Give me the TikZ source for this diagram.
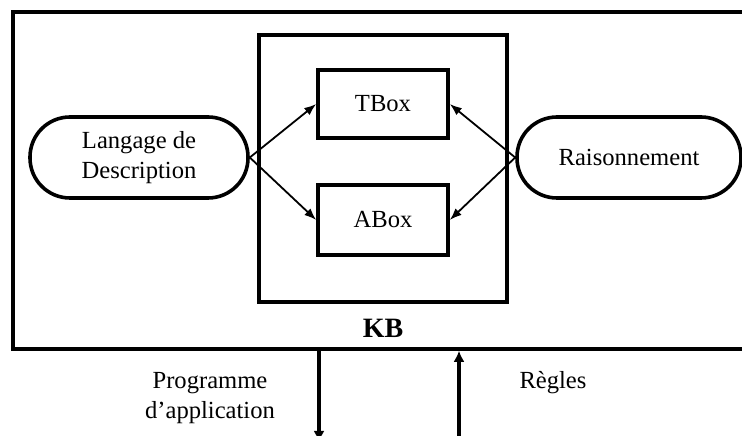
\documentclass[tikz,border=0pt]{standalone}
\usepackage{fontspec}
\setmainfont{Liberation Serif}
\usetikzlibrary{arrows.meta}
\begin{document}
\begin{tikzpicture}[x=1bp,y=1bp,>={Latex[length=12bp,width=9bp]},line join=miter,
  box/.style={draw,line width=3.6bp,inner sep=0pt,align=center,font=\fontsize{24.6bp}{30bp}\selectfont},
  pill/.style={box,rounded corners=40bp},
  link/.style={black,->,line width=1.8bp},
  flow/.style={black,line width=3.6bp,-{Latex[length=11bp,width=11bp]}},
  label/.style={draw=none,inner sep=0pt,align=center,font=\fontsize{24.6bp}{30bp}\selectfont}]
%%
\clip (0bp,0bp) rectangle (742bp,436bp);
\node (node_system) at (391.5bp,255.5bp) [box,minimum width=757bp,minimum height=337bp] {};
  \node (node_kb) at (383bp,267.5bp) [box,minimum width=248bp,minimum height=267bp] {};
  \node (node_tbox) at (383bp,332bp) [box,minimum width=130bp,minimum height=68bp] {TBox};
  \node (node_abox) at (383bp,216bp) [box,minimum width=130bp,minimum height=70bp] {ABox};
  \node (node_lang) at (139bp,278.5bp) [pill,minimum width=218bp,minimum height=81bp] {Langage de\\Description};
  \node (node_reason) at (629bp,278.5bp) [pill,minimum width=224bp,minimum height=81bp] {Raisonnement};
  \node (node_kblabel) at (383bp,108bp) [label,font=\fontsize{28bp}{32bp}\selectfont\bfseries] {KB};
  \node (node_prog) at (210bp,38bp) [label] {Programme\\d'application};
  \node (node_rules) at (553bp,53bp) [label] {Règles};
  \draw [link] (node_lang.east) -- (node_tbox.west);
  \draw [link] (node_lang.east) -- (node_abox.west);
  \draw [link] (node_reason.west) -- (node_tbox.east);
  \draw [link] (node_reason.west) -- (node_abox.east);
%
\coordinate (node_out) at (319bp,-6bp);
  \coordinate (node_in) at (459bp,-2bp);
  \draw [flow] (node_system.south -| node_out) -- (node_out);
  \draw [flow] (node_in) -- (node_system.south -| node_in);
%
\end{tikzpicture}
\end{document}
